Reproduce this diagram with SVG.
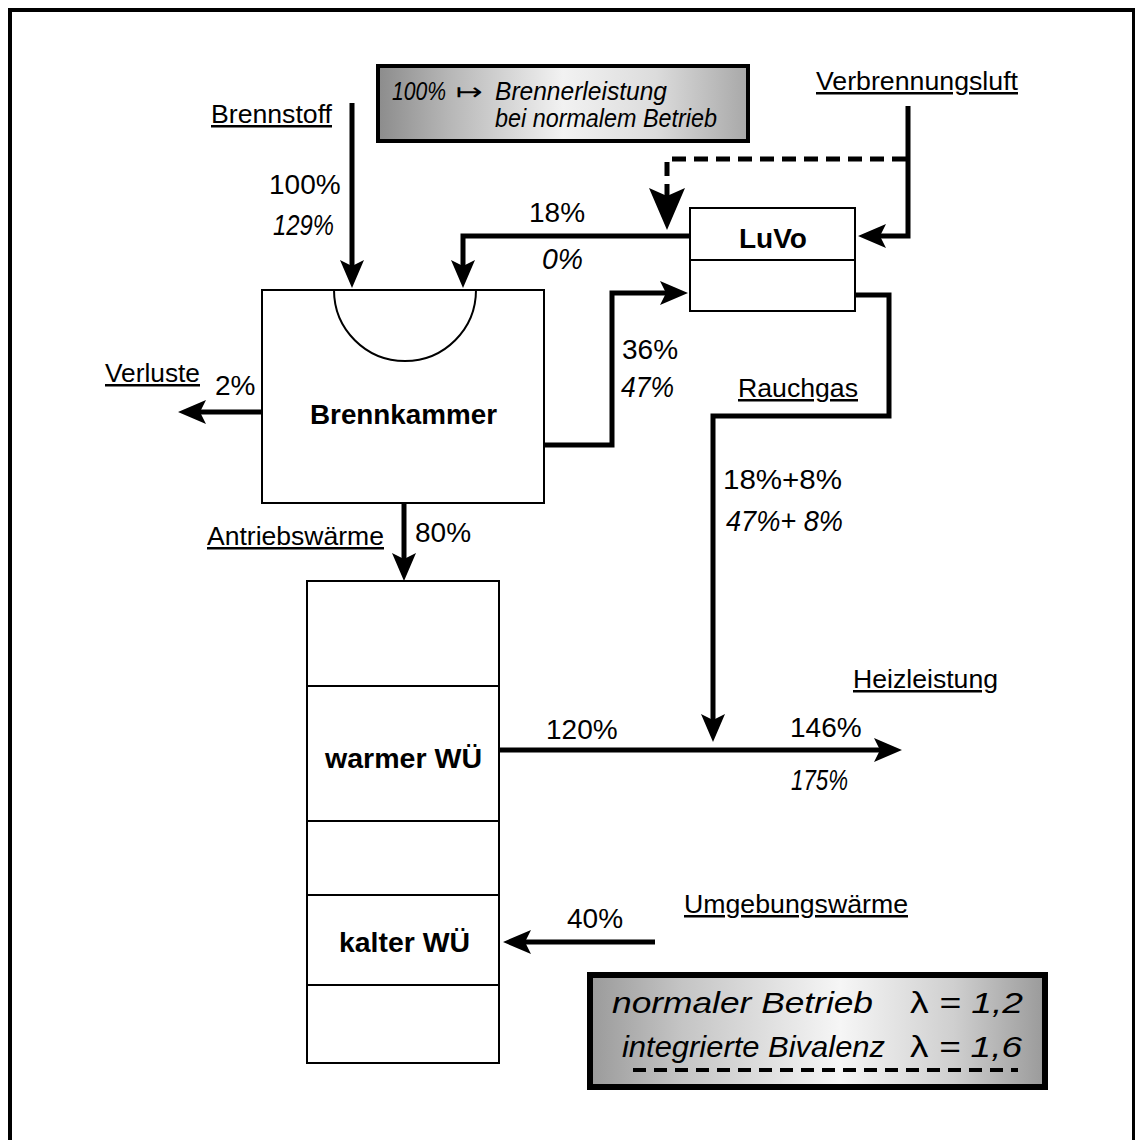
<svg xmlns="http://www.w3.org/2000/svg" width="1135" height="1140" viewBox="0 0 1135 1140">
<defs>
<style>
.lbl{font-family:"Liberation Sans",Arial,sans-serif;font-size:25px;text-decoration:underline;fill:#000}
.num{font-family:"Liberation Sans",Arial,sans-serif;font-size:28px;fill:#000}
.it{font-family:"Liberation Sans",Arial,sans-serif;font-size:30px;font-style:italic;fill:#000}
.bold{font-family:"Liberation Sans",Arial,sans-serif;font-size:28px;font-weight:bold;fill:#000}
.box{fill:#fff;stroke:#000;stroke-width:2}
.con{fill:none;stroke:#000;stroke-width:5}
.dash{fill:none;stroke:#000;stroke-width:5;stroke-dasharray:14 8}
.info{font-family:"Liberation Sans","DejaVu Sans",Arial,sans-serif;font-style:italic;fill:#000}
</style>
<marker id="arr" markerUnits="userSpaceOnUse" markerWidth="30" markerHeight="26" refX="18" refY="12" orient="auto" viewBox="0 0 30 24">
<path d="M0,0 L28,12 L0,24 L6,12 Z" fill="#000"/>
</marker>
<marker id="arrL" markerUnits="userSpaceOnUse" markerWidth="44" markerHeight="38" refX="30" refY="18" orient="auto" viewBox="0 0 44 36">
<path d="M0,0 L42,18 L0,36 L8,18 Z" fill="#000"/>
</marker>
<linearGradient id="gTop" x1="0" y1="0" x2="1" y2="0">
<stop offset="0" stop-color="#8c8c8c"/>
<stop offset="0.2" stop-color="#b8b8b8"/>
<stop offset="0.5" stop-color="#f2f2f2"/>
<stop offset="0.75" stop-color="#dcdcdc"/>
<stop offset="1" stop-color="#a8a8a8"/>
</linearGradient>
<linearGradient id="gBot" x1="0" y1="0" x2="1" y2="0">
<stop offset="0" stop-color="#9a9a9a"/>
<stop offset="0.2" stop-color="#c4c4c4"/>
<stop offset="0.55" stop-color="#f6f6f6"/>
<stop offset="0.8" stop-color="#cfcfcf"/>
<stop offset="1" stop-color="#9a9a9a"/>
</linearGradient>
</defs>

<rect x="0" y="0" width="1135" height="1140" fill="#fff"/>
<rect x="10" y="10" width="1124" height="1145" fill="none" stroke="#000" stroke-width="4"/>

<g id="info-top">
<rect x="378" y="66" width="370" height="75" fill="url(#gTop)" stroke="#000" stroke-width="4"/>
<text class="info" x="392" y="100" font-size="25" textLength="54" lengthAdjust="spacingAndGlyphs">100%</text>
<text class="info" x="456" y="100" font-size="24" font-style="normal" textLength="27" lengthAdjust="spacingAndGlyphs">↦</text>
<text class="info" x="495" y="100" font-size="25" textLength="172" lengthAdjust="spacingAndGlyphs">Brennerleistung</text>
<text class="info" x="495" y="127" font-size="25" textLength="222" lengthAdjust="spacingAndGlyphs">bei normalem Betrieb</text>
</g>

<g id="brennkammer">
<rect class="box" x="262" y="290" width="282" height="213"/>
<path d="M334,290 A71,71 0 0 0 476,290" fill="none" stroke="#000" stroke-width="2"/>
<text class="bold" x="310" y="424" textLength="187" lengthAdjust="spacingAndGlyphs">Brennkammer</text>
</g>

<g id="luvo">
<rect class="box" x="690" y="208" width="165" height="103"/>
<line x1="690" y1="260" x2="855" y2="260" stroke="#000" stroke-width="2"/>
<text class="bold" x="739" y="248" textLength="68" lengthAdjust="spacingAndGlyphs">LuVo</text>
</g>

<g id="waermepumpe">
<rect class="box" x="307" y="581" width="192" height="482"/>
<line x1="307" y1="686" x2="499" y2="686" stroke="#000" stroke-width="2"/>
<line x1="307" y1="821" x2="499" y2="821" stroke="#000" stroke-width="2"/>
<line x1="307" y1="895" x2="499" y2="895" stroke="#000" stroke-width="2"/>
<line x1="307" y1="985" x2="499" y2="985" stroke="#000" stroke-width="2"/>
<text class="bold" x="325" y="768" textLength="157" lengthAdjust="spacingAndGlyphs">warmer WÜ</text>
<text class="bold" x="339" y="952" textLength="131" lengthAdjust="spacingAndGlyphs">kalter WÜ</text>
</g>

<g id="info-bottom">
<rect x="590" y="975" width="455" height="112" fill="url(#gBot)" stroke="#000" stroke-width="6"/>
<text class="info" x="612" y="1013" font-size="29" textLength="261" lengthAdjust="spacingAndGlyphs">normaler Betrieb</text>
<text class="info" x="910" y="1013" font-size="29" textLength="113" lengthAdjust="spacingAndGlyphs"><tspan font-style="normal">λ</tspan> = 1,2</text>
<text class="info" x="622" y="1057" font-size="29" textLength="263" lengthAdjust="spacingAndGlyphs">integrierte Bivalenz</text>
<text class="info" x="910" y="1057" font-size="29" textLength="112" lengthAdjust="spacingAndGlyphs"><tspan font-style="normal">λ</tspan> =  1,6</text>
<line x1="633" y1="1070" x2="1018" y2="1070" stroke="#000" stroke-width="4" stroke-dasharray="13 8"/>
</g>

<g id="connectors">
<path class="con" d="M352,103 V278" marker-end="url(#arr)"/>
<path class="con" d="M690,236 H463 V278" marker-end="url(#arr)"/>
<path class="dash" d="M906,159 H667 V218" marker-end="url(#arrL)"/>
<path class="con" d="M908,106 V236 H868" marker-end="url(#arr)"/>
<path class="con" d="M544,445 H612 V293 H678" marker-end="url(#arr)"/>
<path class="con" d="M855,295 H889 V416 H713 V732" marker-end="url(#arr)"/>
<path class="con" d="M262,412 H188" marker-end="url(#arr)"/>
<path class="con" d="M404,503 V571" marker-end="url(#arr)"/>
<path class="con" d="M499,750 H892" marker-end="url(#arr)"/>
<path class="con" d="M655,942 H513" marker-end="url(#arr)"/>
</g>

<g id="labels">
<text class="lbl" x="211" y="123" textLength="121" lengthAdjust="spacingAndGlyphs">Brennstoff</text>
<text class="lbl" x="816" y="90" textLength="202" lengthAdjust="spacingAndGlyphs">Verbrennungsluft</text>
<text class="lbl" x="105" y="382" textLength="95" lengthAdjust="spacingAndGlyphs">Verluste</text>
<text class="lbl" x="738" y="397" textLength="120" lengthAdjust="spacingAndGlyphs">Rauchgas</text>
<text class="lbl" x="207" y="545" textLength="177" lengthAdjust="spacingAndGlyphs">Antriebswärme</text>
<text class="lbl" x="853" y="688" textLength="145" lengthAdjust="spacingAndGlyphs">Heizleistung</text>
<text class="lbl" x="684" y="913" textLength="224" lengthAdjust="spacingAndGlyphs">Umgebungswärme</text>

<text class="num" x="269" y="194">100%</text>
<text class="it" x="273" y="235" textLength="61" lengthAdjust="spacingAndGlyphs">129%</text>
<text class="num" x="529" y="222">18%</text>
<text class="it" x="542" y="269" textLength="41" lengthAdjust="spacingAndGlyphs">0%</text>
<text class="num" x="215" y="395">2%</text>
<text class="num" x="622" y="359">36%</text>
<text class="it" x="621" y="397" textLength="53" lengthAdjust="spacingAndGlyphs">47%</text>
<text class="num" x="723" y="489" textLength="119" lengthAdjust="spacingAndGlyphs">18%+8%</text>
<text class="it" x="726" y="531" textLength="117" lengthAdjust="spacingAndGlyphs">47%+ 8%</text>
<text class="num" x="415" y="542">80%</text>
<text class="num" x="546" y="739">120%</text>
<text class="num" x="790" y="737">146%</text>
<text class="it" x="791" y="790" textLength="57" lengthAdjust="spacingAndGlyphs">175%</text>
<text class="num" x="567" y="928">40%</text>
</g>
</svg>
